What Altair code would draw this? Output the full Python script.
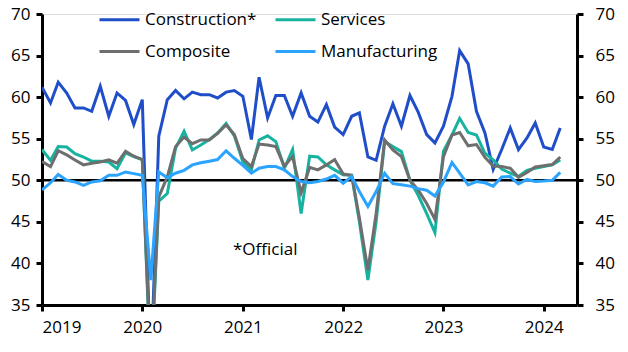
import altair as alt
import pandas as pd

# Monthly, Jan 2019 - Mar 2024
months = pd.date_range("2019-01-01", "2024-03-01", freq="MS")

construction = [
    61.2, 59.3, 61.8, 60.5, 58.7, 58.7, 58.3, 61.3, 57.7, 60.5, 59.6, 56.7,
    59.7, 26.6, 55.3, 59.7, 60.8, 59.8, 60.6, 60.3, 60.3, 59.9, 60.6, 60.8,
    60.1, 54.9, 62.4, 57.5, 60.2, 60.2, 57.7, 60.5, 57.7, 57.0, 59.1, 56.4,
    55.5, 57.7, 58.1, 52.8, 52.4, 56.5, 59.2, 56.5, 60.2, 58.2, 55.5, 54.5,
    56.5, 60.1, 65.6, 64.0, 58.3, 55.7, 51.3, 53.7, 56.3, 53.7, 55.1, 56.9,
    54.0, 53.7, 56.3,
]
services = [
    53.7, 52.4, 54.05, 54.0, 53.2, 52.8, 52.3, 52.3, 52.2, 51.4, 53.3, 52.85,
    52.5, 26.5, 47.5, 48.4, 53.85, 55.9, 53.65, 54.25, 54.9, 55.7, 56.85, 55.35,
    52.2, 51.25, 54.85, 55.35, 54.65, 51.45, 53.7, 46.0, 52.9, 52.8, 51.85, 51.25,
    50.65, 50.6, 45.0, 38.0, 45.0, 54.65, 54.05, 53.45, 50.0, 48.2, 46.0, 43.7,
    53.5, 55.45, 57.45, 55.75, 55.45, 53.25, 52.45, 51.35, 50.85, 50.45, 51.2, 51.45,
    51.65, 51.85, 52.45,
]
composite = [
    52.25, 51.65, 53.55, 53.05, 52.45, 51.85, 52.05, 52.2, 52.45, 52.05, 53.5, 52.9,
    52.5, 27.5, 48.0, 50.4, 54.05, 55.2, 54.4, 54.85, 54.85, 55.65, 56.65, 55.5,
    52.6, 51.65, 54.35, 54.25, 54.05, 51.7, 52.85, 48.5, 51.55, 51.25, 51.85, 52.5,
    50.75, 50.6, 45.5, 39.2, 46.0, 54.85, 53.65, 52.85, 50.0, 48.85, 47.2, 45.3,
    52.85, 55.45, 55.75, 54.15, 54.3, 52.75, 51.7, 51.65, 51.45, 50.35, 50.95, 51.6,
    51.75, 51.9, 52.8,
]
manufacturing = [
    48.85, 49.7, 50.7, 50.0, 49.8, 49.4, 49.8, 49.95, 50.6, 50.6, 51.0, 50.8,
    50.6, 38.0, 51.0, 50.3, 50.85, 51.2, 51.85, 52.1, 52.3, 52.5, 53.55, 52.65,
    51.8, 50.85, 51.45, 51.65, 51.65, 51.25, 50.45, 49.85, 49.7, 49.85, 50.15, 50.6,
    49.65, 50.45, 48.65, 46.85, 48.65, 50.85, 49.6, 49.45, 49.3, 49.0, 48.8, 48.1,
    49.8, 52.15, 50.85, 49.45, 49.85, 49.7, 49.3, 50.4, 50.45, 49.55, 50.1, 49.85,
    49.9, 50.0, 50.95,
]

series_names = ["Construction*", "Services", "Composite", "Manufacturing"]
series_colors = ["#1F4EC8", "#17B3A0", "#6E6E6E", "#2AA4FF"]
# legend fills column by column: this order gives rows Construction*/Services, Composite/Manufacturing
legend_order = ["Construction*", "Composite", "Services", "Manufacturing"]
legend_colors = [series_colors[series_names.index(n)] for n in legend_order]
year_ticks = [2019, 2020, 2021, 2022, 2023, 2024]
y_ticks = [35, 40, 45, 50, 55, 60, 65, 70]
note_text = ["*Official"]

FONT = "Open Sans"

rows = []
for name, vals in zip(series_names, [construction, services, composite, manufacturing]):
    for d, v in zip(months, vals):
        rows.append({"date": d.strftime("%Y-%m-%dT00:00:00"), "value": v, "series": name})
df = pd.DataFrame(rows)

x_scale = alt.Scale(domain=[alt.DateTime(year=2019, month=1, date=1),
                            alt.DateTime(year=2024, month=5, date=1)])
y_scale = alt.Scale(domain=[35, 70], nice=False, zero=False)

x_axis = alt.Axis(
    values=[alt.DateTime(year=y, month=1, date=1) for y in year_ticks],
    format="%Y", title=None, grid=False,
    domainColor="black", domainWidth=3, tickColor="black", tickWidth=3, tickSize=6,
    labelFontSize=17, labelFont=FONT, labelColor="black", labelPadding=8,
)
y_axis_left = alt.Axis(
    orient="left", values=y_ticks, title=None, grid=False,
    domainColor="black", domainWidth=3, tickColor="black", tickWidth=3, tickSize=6,
    labelFontSize=17, labelFont=FONT, labelColor="black", labelPadding=6,
)
y_axis_right = alt.Axis(
    orient="right", values=y_ticks, title=None, grid=False,
    domainColor="black", domainWidth=3, tickColor="black", tickWidth=3, tickSize=6,
    labelFontSize=17, labelFont=FONT, labelColor="black", labelPadding=12,
)

ref = pd.DataFrame({"value": [50]})
rule = alt.Chart(ref).mark_rule(color="black", strokeWidth=2.5).encode(
    y=alt.Y("value:Q", scale=y_scale, axis=y_axis_right)
)

lines = alt.Chart(df).mark_line(strokeWidth=3, clip=True).encode(
    x=alt.X("date:T", scale=x_scale, axis=x_axis),
    y=alt.Y("value:Q", scale=y_scale, axis=y_axis_left),
    color=alt.Color(
        "series:N",
        scale=alt.Scale(domain=legend_order, range=legend_colors),
        legend=alt.Legend(
            title=None, orient="none", legendX=56, legendY=-16,
            columns=2, columnPadding=12, rowPadding=2,
            symbolType="stroke", symbolSize=1600, symbolStrokeWidth=3,
            labelFontSize=17, labelFont=FONT, labelColor="black", labelOffset=4,
        ),
    ),
    detail="series:N",
)

note = alt.Chart(pd.DataFrame({"date": ["2020-11-26T00:00:00"], "value": [41.6], "t": note_text})).mark_text(
    align="left", baseline="middle", fontSize=17, font=FONT, color="black"
).encode(
    x=alt.X("date:T", scale=x_scale, axis=x_axis),
    y=alt.Y("value:Q", scale=y_scale, axis=None),
    text="t:N",
)

chart = alt.layer(rule, lines, note).resolve_scale(y="shared").resolve_axis(y="independent").properties(
    width=535, height=291,
    autosize=alt.AutoSizeParams(type="none"),
    padding={"left": 42, "top": 14, "right": 51, "bottom": 47},
).configure_view(stroke=None).configure(background="white")

chart.save("out.html", embed_options={"renderer": "svg", "actions": False})
